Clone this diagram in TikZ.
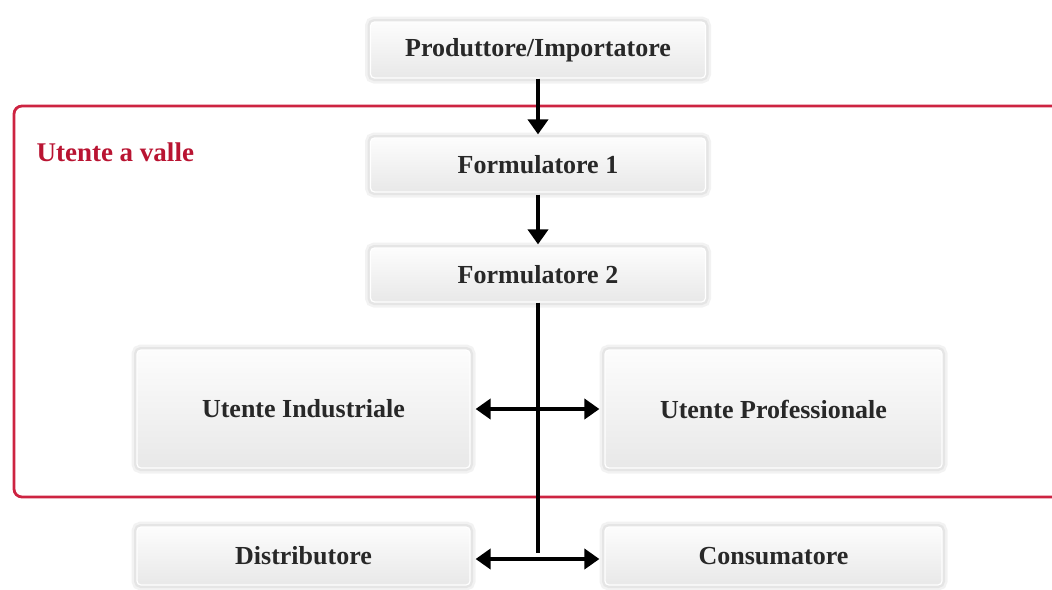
\documentclass[tikz,border=0pt]{standalone}
\usepackage{fontspec}
\setmainfont{Liberation Serif}
\usetikzlibrary{arrows.meta}
\definecolor{frameRed}{RGB}{205,35,65}
\definecolor{labelRed}{RGB}{185,20,50}
\definecolor{txt}{RGB}{40,40,40}
\tikzset{
  box/.style={rectangle, rounded corners=4pt, draw=white, line width=1.2pt,
    top color=gray!2, bottom color=gray!18, text=txt,
    font=\fontsize{26}{30}\selectfont\bfseries,
    preaction={draw=black!5, line width=11pt},
    preaction={draw=black!10, line width=6pt}},
  flow/.style={line width=4pt, -{Triangle[length=15pt,width=20pt]}},
  dbl/.style={line width=4pt, {Triangle[length=15pt,width=20pt]}-{Triangle[length=15pt,width=20pt]}},
  plain/.style={line width=4pt}
}
\begin{document}
\begin{tikzpicture}[x=1pt,y=-1pt]
\useasboundingbox (0,0) rectangle (1052,589);
% frame
\draw[frameRed, line width=2.8pt, rounded corners=8pt] (1070,106) -- (14,106) -- (14,497) -- (1070,497);
\node[anchor=west, text=labelRed, font=\fontsize{27}{30}\selectfont\bfseries] (lab) at (33,152) {Utente a valle};
% boxes
\node[box, minimum width=335pt, minimum height=56pt] (prod) at (538,50) {Produttore/Importatore};
\node[box, minimum width=335pt, minimum height=54pt] (f1) at (538,165) {Formulatore 1};
\node[box, minimum width=335pt, minimum height=54pt] (f2) at (538,275) {Formulatore 2};
\node[box, minimum width=333pt, minimum height=118pt] (ui) at (303.5,409) {Utente Industriale};
\node[box, minimum width=337pt, minimum height=118pt] (up) at (773.5,409) {Utente Professionale};
\node[box, minimum width=333pt, minimum height=58pt] (dist) at (303.5,556) {Distributore};
\node[box, minimum width=337pt, minimum height=58pt] (cons) at (773.5,556) {Consumatore};
\coordinate (bot) at (538,553);
% connectors
\draw[flow, shorten >=3pt] (prod) -- (f1);
\draw[flow, shorten <=2pt, shorten >=3pt] (f1) -- (f2);
\draw[plain] (f2.south) -- (bot);
\draw[dbl, shorten <=5pt, shorten >=5pt] (ui) -- (up);
\draw[dbl, shorten <=5pt, shorten >=5pt] ([yshift=-3pt]dist.east) -- ([yshift=-3pt]cons.west);
\end{tikzpicture}
\end{document}
